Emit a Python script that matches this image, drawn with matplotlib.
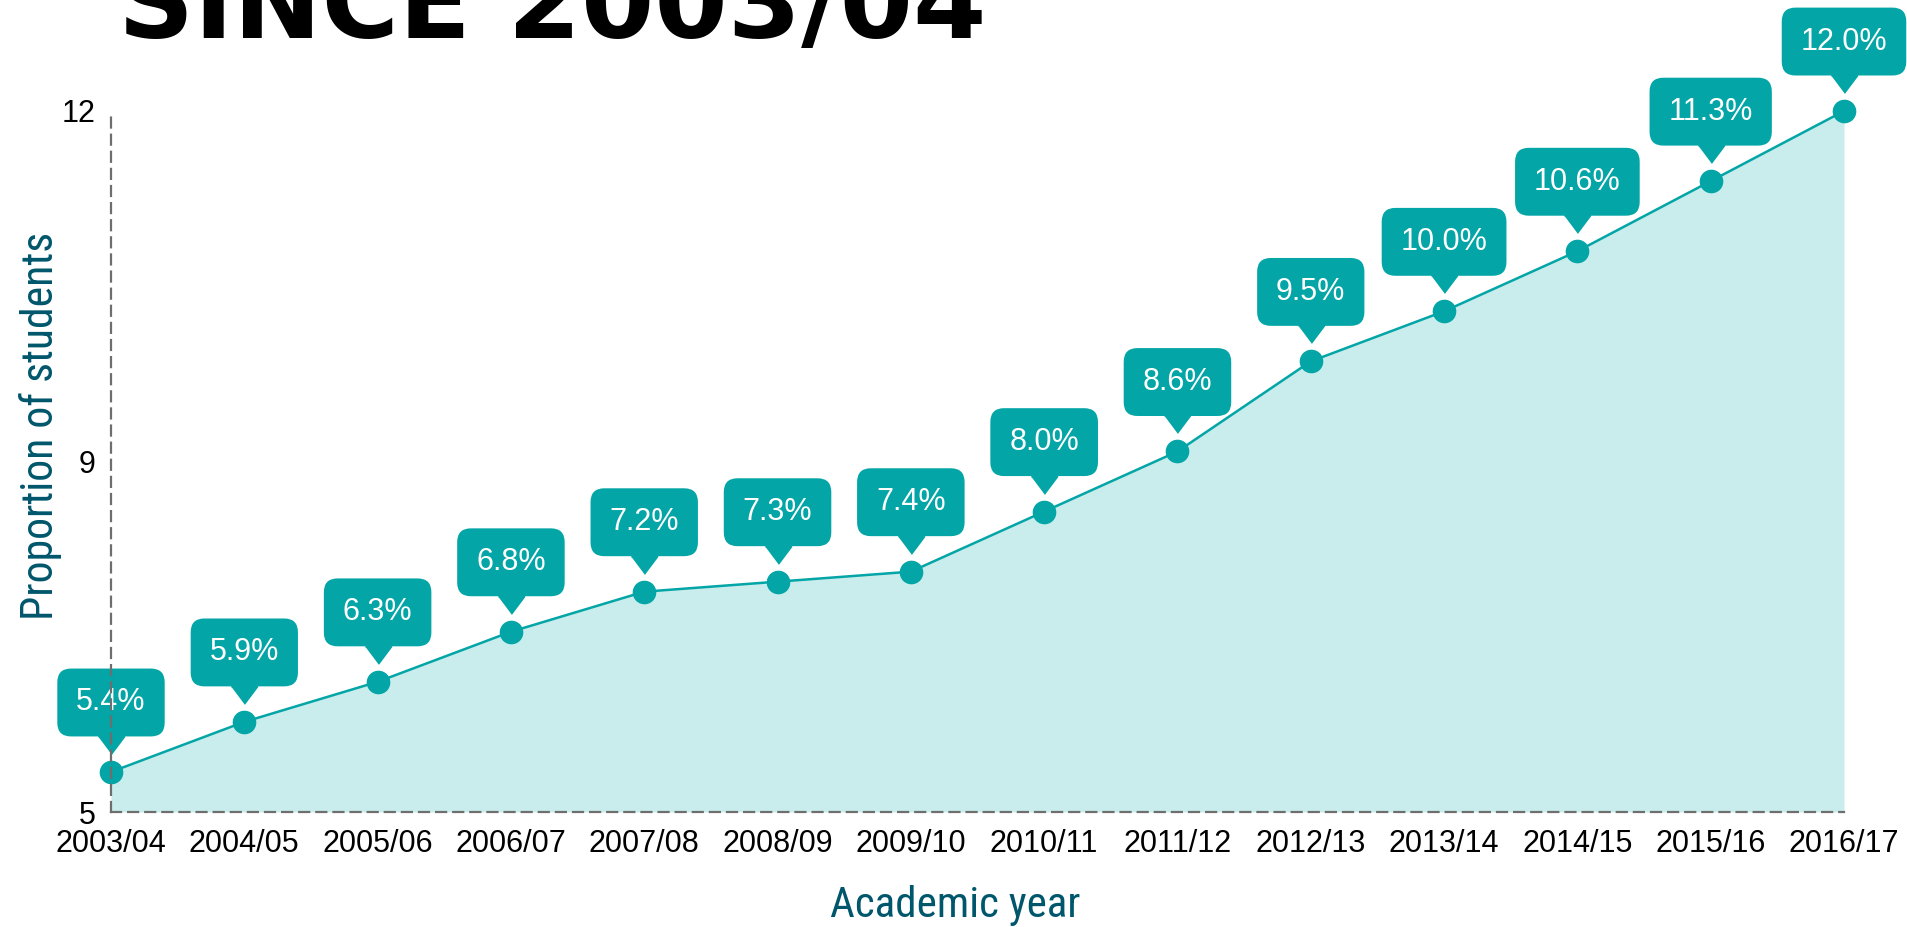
import matplotlib
matplotlib.use("Agg")
import matplotlib.pyplot as plt
from matplotlib.transforms import offset_copy

years = ["2003/04", "2004/05", "2005/06", "2006/07", "2007/08", "2008/09", "2009/10",
         "2010/11", "2011/12", "2012/13", "2013/14", "2014/15", "2015/16", "2016/17"]
share = [5.4, 5.9, 6.3, 6.8, 7.2, 7.3, 7.4, 8.0, 8.6, 9.5, 10.0, 10.6, 11.3, 12.0]
ytick_pos = [5, 8.5, 12]
ytick_lab = ["5", "9", "12"]

teal = "#03a5a6"
fill = "#c9ecec"
dark = "#00566b"
grey = "#6e6e6e"

plt.rcParams["font.family"] = ["Liberation Sans", "DejaVu Sans"]
narrow = ["Roboto Condensed", "DejaVu Sans"]

fig = plt.figure(figsize=(19.07, 9.27), dpi=100)
ax = fig.add_axes([111 / 1907, 1 - 812 / 927, (1844 - 111) / 1907, (812 - 111) / 927])

x = list(range(len(years)))
ax.fill_between(x, share, 5, color=fill, lw=0, zorder=1)
ax.plot(x, share, color=teal, lw=1.8, marker="o", ms=16, clip_on=False, zorder=3)

# callout pointers
tri = [(-0.75, 0.5), (0.75, 0.5), (0, -0.5)]
ax.plot(x, share, ls="none", marker=tri, ms=19, color=teal, clip_on=False, zorder=4,
        transform=offset_copy(ax.transData, fig=fig, x=0, y=27, units="dots"))
for xi, v in zip(x, share):
    ax.annotate(f"{v:.1f}%", xy=(xi, v), xytext=(0, 50), textcoords="offset points",
                ha="center", va="center", color="white", fontsize=22,
                annotation_clip=False, zorder=5,
                bbox=dict(boxstyle="round,pad=0.62,rounding_size=0.45", fc=teal, ec="none"))

ax.set_xlim(0, 13)
ax.set_ylim(5, 12)
ax.set_xticks(x)
ax.set_xticklabels(years, fontsize=22)
ax.set_yticks(ytick_pos)
ax.set_yticklabels(ytick_lab, fontsize=22)
ax.tick_params(axis="x", length=0, pad=12)
ax.tick_params(axis="y", length=0, pad=11)

for s in ["top", "right"]:
    ax.spines[s].set_visible(False)
for s in ["left", "bottom"]:
    ax.spines[s].set_linestyle((0, (4.5, 3.2)))
    ax.spines[s].set_color(grey)
    ax.spines[s].set_linewidth(1.6)
    ax.spines[s].set_zorder(10)

fig.text(41 / 1907, 1 - 426 / 927, "Proportion of students", rotation=90, ha="center",
         va="center", fontsize=31.5, color=dark, family=narrow, fontstretch="condensed")
fig.text(955 / 1907, 1 - 917 / 927, "Academic year", ha="center", va="baseline",
         fontsize=31, color=dark, family=narrow, fontstretch="condensed")

fig.text(118 / 1907, 1 - 38 / 927, "SINCE 2003/04", ha="left", va="baseline",
         fontsize=76, fontweight="heavy", color="black", family=["DejaVu Sans"])

fig.savefig("out.png", dpi=100)
